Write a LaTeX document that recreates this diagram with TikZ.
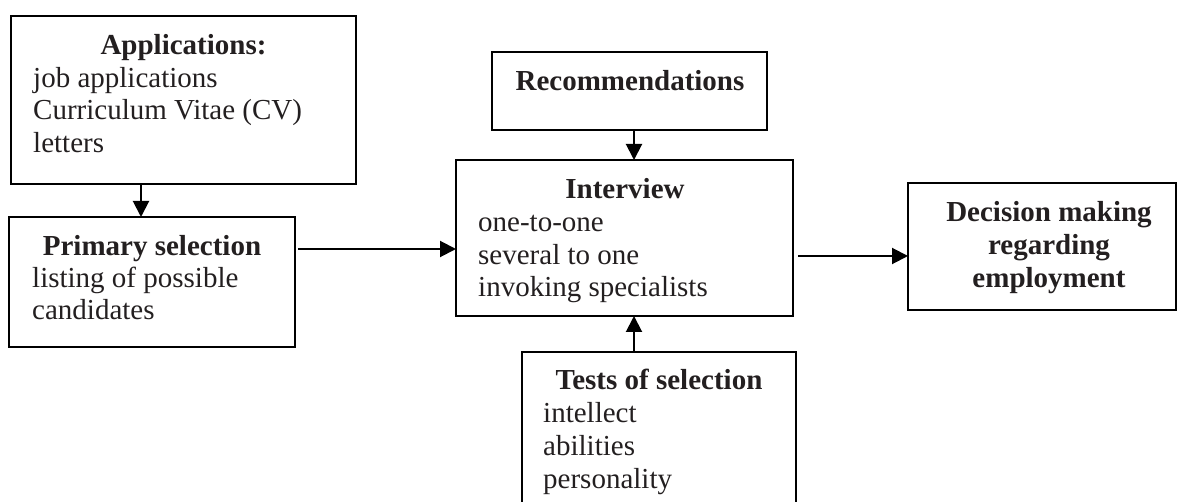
\documentclass[tikz,border=0pt]{standalone}
\usepackage{fontspec}
\setmainfont{Liberation Serif}
\usetikzlibrary{arrows.meta}
\definecolor{ink}{HTML}{231F20}
\begin{document}
\begin{tikzpicture}[x=1pt,y=-1pt,
  box/.style={draw, line width=2pt, inner sep=0pt, outer sep=0pt, anchor=north west},
  ttl/.style={font=\fontsize{29}{33}\selectfont\bfseries, text=ink, anchor=base, inner sep=0pt},
  ln/.style={font=\fontsize{29}{33}\selectfont, text=ink, anchor=base west, inner sep=0pt},
  arr/.style={line width=2pt, -{Triangle[length=16pt,width=16pt]}}]
\useasboundingbox (0,0) rectangle (1178,502);
% boxes
\node[box, minimum width=345pt, minimum height=168pt] (app) at (11,16) {};
\node[box, minimum width=286pt, minimum height=130pt] (prim) at (9,217) {};
\node[box, minimum width=275pt, minimum height=78pt] (rec) at (492,52) {};
\node[box, minimum width=337pt, minimum height=156pt] (int) at (456,160) {};
\node[box, draw=none, minimum width=274pt, minimum height=160pt] (tests) at (522,352) {};
\draw[line width=2pt] (tests.south west) -- (tests.north west) -- (tests.north east) -- (tests.south east);
\node[box, minimum width=268pt, minimum height=127pt] (dec) at (908,183) {};
% texts
\node[ttl] (appT) at (183.5,55) {Applications:};
\node[ln] (app1) at (33,88) {job applications};
\node[ln] (app2) at (33,120) {Curriculum Vitae (CV)};
\node[ln] (app3) at (33,153) {letters};
\node[ttl] (primT) at (152,256) {Primary selection};
\node[ln] (prim1) at (32,288) {listing of possible};
\node[ln] (prim2) at (32,320) {candidates};
\node[ttl] (recT) at (630,91) {Recommendations};
\node[ttl] (intT) at (625,199) {Interview};
\node[ln] (int1) at (478,232) {one-to-one};
\node[ln] (int2) at (478,265) {several to one};
\node[ln] (int3) at (478,297) {invoking specialists};
\node[ttl] (testsT) at (659,390) {Tests of selection};
\node[ln] (tests1) at (543,423) {intellect};
\node[ln] (tests2) at (543,455) {abilities};
\node[ln] (tests3) at (543,488) {personality};
\node[ttl] (dec1) at (1049,222) {Decision making};
\node[ttl] (dec2) at (1049,255) {regarding};
\node[ttl] (dec3) at (1049,288) {employment};
% connectors
\coordinate (c1) at (141,0);
\coordinate (c2) at (634,0);
\coordinate (c3) at (0,249);
\coordinate (c4) at (0,256);
\draw[arr] (app.south -| c1) -- (prim.north -| c1);
\draw[arr] (rec.south -| c2) -- (int.north -| c2);
\draw[arr] (tests.north -| c2) -- (int.south -| c2);
\draw[arr] ([xshift=3pt]prim.east |- c3) -- (int.west |- c3);
\draw[arr] ([xshift=5pt]int.east |- c4) -- (dec.west |- c4);
\end{tikzpicture}
\end{document}
